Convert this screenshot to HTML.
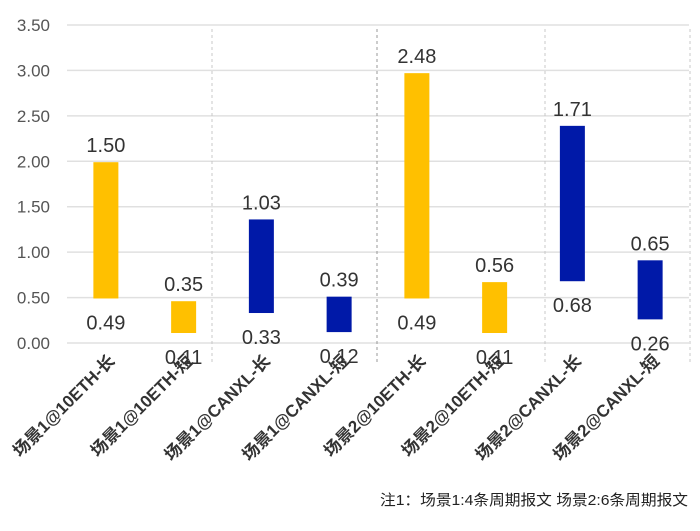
<!DOCTYPE html>
<html><head><meta charset="utf-8"><style>
html,body{margin:0;padding:0;background:#fff;}
svg text{font-family:"Liberation Sans","Noto Sans CJK SC",sans-serif;}
</style></head><body>
<svg id="chart" width="700" height="526" viewBox="0 0 700 526" xmlns="http://www.w3.org/2000/svg">
<g id="grid"></g>
<g id="yaxis"></g>
<g id="dividers"></g>
<g id="bars"></g>
<g id="labels"></g>
<g id="xaxis"></g>
<text x="380" y="505" font-size="15" fill="#222" textLength="308" lengthAdjust="spacingAndGlyphs">注1：场景1:4条周期报文 场景2:6条周期报文</text>
</svg>
<script>
const categories = ["场景1@10ETH-长","场景1@10ETH-短","场景1@CANXL-长","场景1@CANXL-短","场景2@10ETH-长","场景2@10ETH-短","场景2@CANXL-长","场景2@CANXL-短"];
const baseValues = [0.49,0.11,0.33,0.12,0.49,0.11,0.68,0.26];
const rangeValues = [1.50,0.35,1.03,0.39,2.48,0.56,1.71,0.65];
const barColors = ["#FFC000","#FFC000","#0019A8","#0019A8","#FFC000","#FFC000","#0019A8","#0019A8"];
const yTicks = [0,0.5,1,1.5,2,2.5,3,3.5];
const dividerX = [212,377,545,690];

const NS="http://www.w3.org/2000/svg";
const left=67,right=689,y0=343,y35=25,maxV=3.5;
const yS=v=>y0-(v/maxV)*(y0-y35);
const band=(right-left)/categories.length;
const xC=i=>left+band*(i+0.5);
function mk(tag,attrs,parent,txt){const e=document.createElementNS(NS,tag);for(const k in attrs)e.setAttribute(k,attrs[k]);if(txt!==undefined)e.textContent=txt;parent.appendChild(e);return e;}
const grid=document.getElementById('grid'),yaxis=document.getElementById('yaxis'),div=document.getElementById('dividers'),bars=document.getElementById('bars'),labels=document.getElementById('labels'),xaxis=document.getElementById('xaxis');
yTicks.forEach(t=>{
  const l=mk('line',{x1:left,x2:right,y1:yS(t),y2:yS(t),stroke:'#e0e0e0','stroke-width':1.5},grid);
  
  
  const tx=mk('text',{x:50,y:yS(t)+6,'text-anchor':'end','font-size':17,fill:'#555'},yaxis,t.toFixed(2));
  
  
});
dividerX.forEach((x,i)=>{
  const l=mk('line',{x1:x,x2:x,y1:29,y2:362,stroke:i===1?'#999':'#c8c8c8','stroke-width':1,'stroke-dasharray':'3,3'},div);
  
  
});
categories.forEach((c,i)=>{
  const b=baseValues[i],r=rangeValues[i];
  const yt=yS(b+r),yb=yS(b);
  const rc=mk('rect',{x:xC(i)-12.5,y:yt,width:25,height:yb-yt,fill:barColors[i]},bars);
  
  
  const t1=mk('text',{x:xC(i),y:yt-10,'text-anchor':'middle','font-size':20,fill:'#333'},labels,r.toFixed(2));
  
  
  const t2=mk('text',{x:xC(i),y:yb+31,'text-anchor':'middle','font-size':20,fill:'#333'},labels,b.toFixed(2));
  
  
  const cx=xC(i)+10,cy=362;
  const t3=mk('text',{x:cx,y:cy,'text-anchor':'end','font-size':17,'font-weight':'bold',fill:'#333',transform:`rotate(-45 ${cx} ${cy})`},xaxis,c);
  
  
});
</script>
</body></html>
